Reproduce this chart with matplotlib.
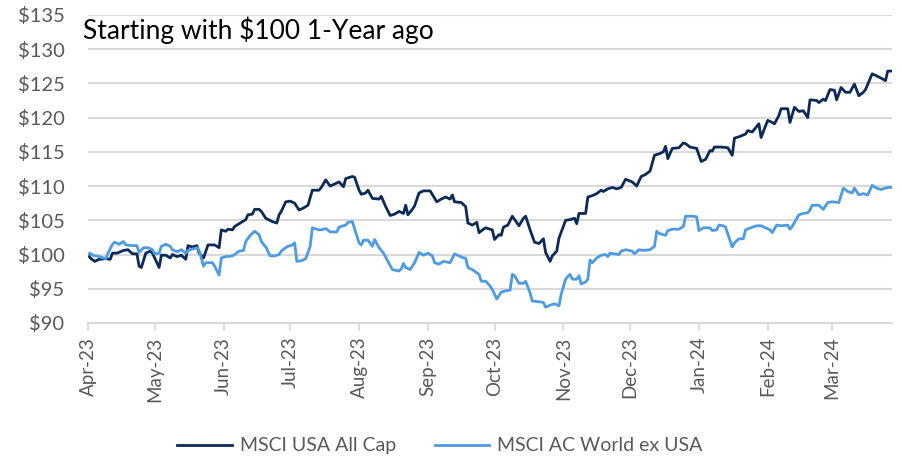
import matplotlib.pyplot as plt
import matplotlib.dates as mdates
import numpy as np
import pandas as pd

start = pd.Timestamp("2023-04-01")

# days since start / growth of $100
usa_days = [0, 1, 3, 5, 8, 10, 11, 13, 16, 18, 20, 22, 23, 24, 26, 28, 29, 31, 32, 33,
            35, 37, 38, 40, 42, 44, 45, 47, 49, 50, 52, 54, 57, 59, 60, 62, 63, 65, 66, 68,
            71, 72, 74, 75, 77, 78, 80, 83, 85, 86, 87, 89, 91, 93, 95, 97, 99, 101, 104, 105,
            107, 109, 111, 113, 115, 116, 119, 120, 122, 123, 125, 126, 128, 131, 132, 134, 136, 138, 140, 142,
            143, 144, 146, 147, 149, 151, 154, 157, 159, 161,
            163, 164, 165, 168, 170, 171, 173, 175, 176, 178, 179, 182, 183, 185, 186, 187, 189, 191, 194, 196,
            197, 199, 201, 203, 205, 206, 208, 209, 211, 212, 215, 217, 219, 220, 221, 224, 225, 227, 229, 231,
            232, 234, 236, 238, 240, 242, 245, 247, 249, 251, 253, 255, 257, 259, 260, 261, 263, 266, 268, 269,
            271, 274, 276, 278, 280, 281, 282, 285, 288, 290, 291, 293, 296, 297, 299, 301, 302, 303, 305, 306,
            308, 309, 311, 312, 315, 316, 318, 320, 322, 324, 325, 328, 329, 331, 332, 334, 336, 337, 339, 341,
            343, 345, 347, 349, 350, 353, 355, 358, 359, 360, 362]
usa_vals = [100.0, 99.5, 99.0, 99.3, 99.4, 99.3, 100.2, 100.2, 100.6, 100.7, 100.1, 100.1, 98.3, 98.1, 100.2, 100.5, 100.2, 98.8, 98.1, 99.9,
            99.9, 99.5, 100.0, 99.7, 99.9, 99.3, 101.3, 101.1, 101.3, 100.2, 99.5, 101.4, 101.4, 101.0, 103.6, 103.4, 103.7, 103.6, 104.1, 104.5,
            105.1, 105.8, 105.9, 106.6, 106.6, 106.3, 105.3, 104.8, 104.6, 105.8, 106.3, 107.7, 107.8, 107.5, 106.5, 106.8, 107.2, 109.4, 109.4, 109.8,
            110.9, 110.0, 110.3, 110.6, 109.9, 111.1, 111.4, 111.3, 109.4, 108.8, 109.0, 109.4, 108.2, 108.1, 108.5, 107.0, 105.7, 105.9, 106.3, 106.0,
            107.2, 105.8, 106.6, 107.1, 109.0, 109.3, 109.3, 107.7, 108.1, 108.4,
            108.1, 108.7, 107.7, 107.6, 107.0, 104.6, 104.3, 104.7, 103.2, 103.7, 103.9, 103.6, 102.2, 102.9, 102.8, 104.0, 104.3, 105.6, 104.2, 105.3,
            105.6, 103.6, 101.8, 101.6, 102.3, 100.3, 99.0, 99.8, 100.5, 102.4, 105.0, 105.1, 105.3, 104.5, 106.0, 106.0, 108.4, 108.6, 108.9, 109.4,
            109.2, 109.6, 109.8, 109.6, 109.8, 111.0, 110.6, 110.0, 111.4, 111.7, 112.2, 114.5, 114.7, 115.0, 115.8, 114.0, 115.5, 115.6, 116.3, 116.2,
            115.7, 115.5, 113.6, 113.9, 115.2, 115.1, 115.7, 115.7, 115.6, 114.5, 117.0, 117.2, 117.6, 118.1, 117.9, 118.7, 119.1, 117.1, 118.8, 119.6,
            119.3, 119.1, 120.3, 121.3, 121.3, 119.3, 121.5, 120.9, 121.0, 120.0, 122.6, 122.5, 122.2, 122.7, 122.5, 124.1, 124.0, 122.6, 124.4, 123.7,
            123.7, 124.9, 123.2, 123.7, 124.1, 126.4, 126.1, 125.6, 125.4, 126.8, 126.8]

world_days = [0, 1, 2, 5, 8, 9, 11, 12, 14, 16, 17, 20, 22, 23, 25, 27, 29, 30, 32, 33,
              35, 37, 38, 40, 42, 44, 45, 47, 49, 50, 52, 53, 56, 57, 59, 60, 62, 65, 66, 68,
              70, 71, 73, 75, 77, 78, 80, 82, 84, 86, 87, 89, 90, 92, 93, 94, 96, 98, 100, 101,
              104, 105, 107, 109, 112, 113, 116, 117, 119, 122, 123, 124, 126, 128, 129, 131, 133, 135, 137, 140,
              141, 142, 143, 145, 147, 149, 151, 153, 155, 156, 158, 160,
              163, 165, 167, 169, 170, 171, 173, 176, 177, 179, 181, 182, 184, 186, 188, 190, 191, 192, 194, 196,
              197, 199, 200, 203, 205, 206, 208, 210, 212, 213, 215, 216, 217, 218, 220, 221, 222, 224, 225, 226,
              227, 229, 231, 233, 234, 235, 237, 239, 240, 242, 245, 246, 248, 250, 253, 255, 256, 257, 260, 261,
              263, 266, 268, 269, 272, 274, 275, 277, 280, 281, 283, 284, 286, 287, 290, 291, 293, 295, 296, 299,
              301, 303, 305, 307, 308, 310, 312, 315, 316, 317, 320, 322, 324, 325, 326, 329, 331, 333, 335, 338,
              340, 342, 344, 345, 347, 349, 351, 353, 355, 357, 360, 362]
world_vals = [100.0, 100.2, 99.9, 99.7, 99.4, 100.2, 101.5, 101.8, 101.5, 101.9, 101.4, 101.3, 101.3, 100.3, 101.0, 101.0, 100.7, 100.1, 100.2, 101.2,
              101.5, 101.2, 100.7, 100.4, 100.7, 100.2, 100.6, 100.8, 101.0, 100.6, 98.3, 98.8, 98.8, 98.3, 97.0, 99.5, 99.7, 99.8, 100.0, 100.5,
              100.6, 101.9, 102.8, 103.4, 102.9, 101.9, 101.1, 99.8, 99.8, 100.0, 100.5, 101.0, 101.2, 101.4, 101.7, 99.0, 99.1, 99.4, 101.2, 103.9,
              103.6, 103.6, 103.8, 103.3, 103.3, 104.0, 104.3, 104.7, 104.8, 101.7, 101.4, 102.1, 102.1, 101.2, 102.2, 101.0, 100.2, 99.0, 97.8, 97.6,
              97.9, 98.7, 98.1, 97.8, 98.8, 100.3, 99.9, 100.2, 99.8, 98.8, 98.6, 99.0,
              98.8, 100.1, 99.8, 99.5, 99.5, 98.1, 97.8, 97.1, 96.1, 96.1, 95.4, 94.9, 93.5, 94.5, 94.7, 94.8, 97.1, 96.9, 95.8, 95.8,
              96.1, 94.4, 93.2, 93.1, 93.0, 92.3, 92.6, 92.8, 92.5, 94.2, 96.4, 96.8, 97.1, 96.4, 96.4, 96.9, 95.7, 96.0, 96.4, 99.2,
              98.8, 99.5, 99.9, 100.0, 99.7, 100.2, 100.1, 100.0, 100.5, 100.7, 100.5, 100.1, 100.7, 100.6, 100.7, 101.2, 103.4, 103.1, 102.8, 103.5,
              103.7, 103.7, 104.1, 105.6, 105.6, 105.5, 103.5, 103.9, 103.9, 103.5, 103.6, 104.3, 104.2, 104.0, 101.1, 101.7, 102.3, 102.3, 103.6, 104.0,
              104.2, 104.2, 103.9, 103.6, 103.2, 104.3, 104.2, 104.3, 103.7, 104.1, 105.8, 106.0, 106.1, 106.5, 107.2, 107.2, 106.6, 107.6, 107.7, 107.6,
              109.7, 109.2, 109.0, 109.7, 108.7, 108.9, 108.7, 110.1, 109.7, 109.5, 109.8, 109.8]

usa_dates = start + pd.to_timedelta(usa_days, unit="D")
world_dates = start + pd.to_timedelta(world_days, unit="D")

plt.rcParams["font.family"] = ["Lato", "DejaVu Sans"]
grey = "#595959"

fig = plt.figure(figsize=(9.03, 4.67), dpi=100)
ax = fig.add_axes([0.0975, 0.3084, 0.8905, 0.6596])

ax.plot(usa_dates, usa_vals, color="#0c2a57", lw=2.0, label="MSCI USA All Cap")
ax.plot(world_dates, world_vals, color="#4d9be2", lw=2.0, label="MSCI AC World ex USA")

ax.set_ylim(90, 135)
ax.set_yticks(np.arange(90, 136, 5))
ax.set_yticklabels([f"${v}" for v in range(90, 136, 5)])
ax.set_xlim(usa_dates[0], usa_dates[-1])
ax.xaxis.set_major_locator(mdates.MonthLocator())
ax.xaxis.set_major_formatter(mdates.DateFormatter("%b-%y"))

ax.grid(axis="y", color="#d9d9d9", lw=1.5)
ax.set_axisbelow(True)
for s in ["top", "right", "left"]:
    ax.spines[s].set_visible(False)
ax.spines["bottom"].set_color("#d9d9d9")
ax.spines["bottom"].set_linewidth(1.5)
ax.tick_params(axis="y", length=0, pad=17, labelsize=14.5, labelcolor=grey)
ax.tick_params(axis="x", length=6, width=1.2, color="#d9d9d9", labelsize=13.5,
               labelcolor=grey, labelrotation=90, pad=4)

fig.text(83 / 903, 1 - 30 / 467, "Starting with $100 1-Year ago",
         fontsize=19, color="black", va="center", ha="left")

fig.legend(loc="center", bbox_to_anchor=(0.487, 0.045), ncol=2, frameon=False,
           fontsize=14, labelcolor=grey, handlelength=2.8, columnspacing=2.0, handletextpad=0.4)

fig.savefig("out.png", dpi=100)
